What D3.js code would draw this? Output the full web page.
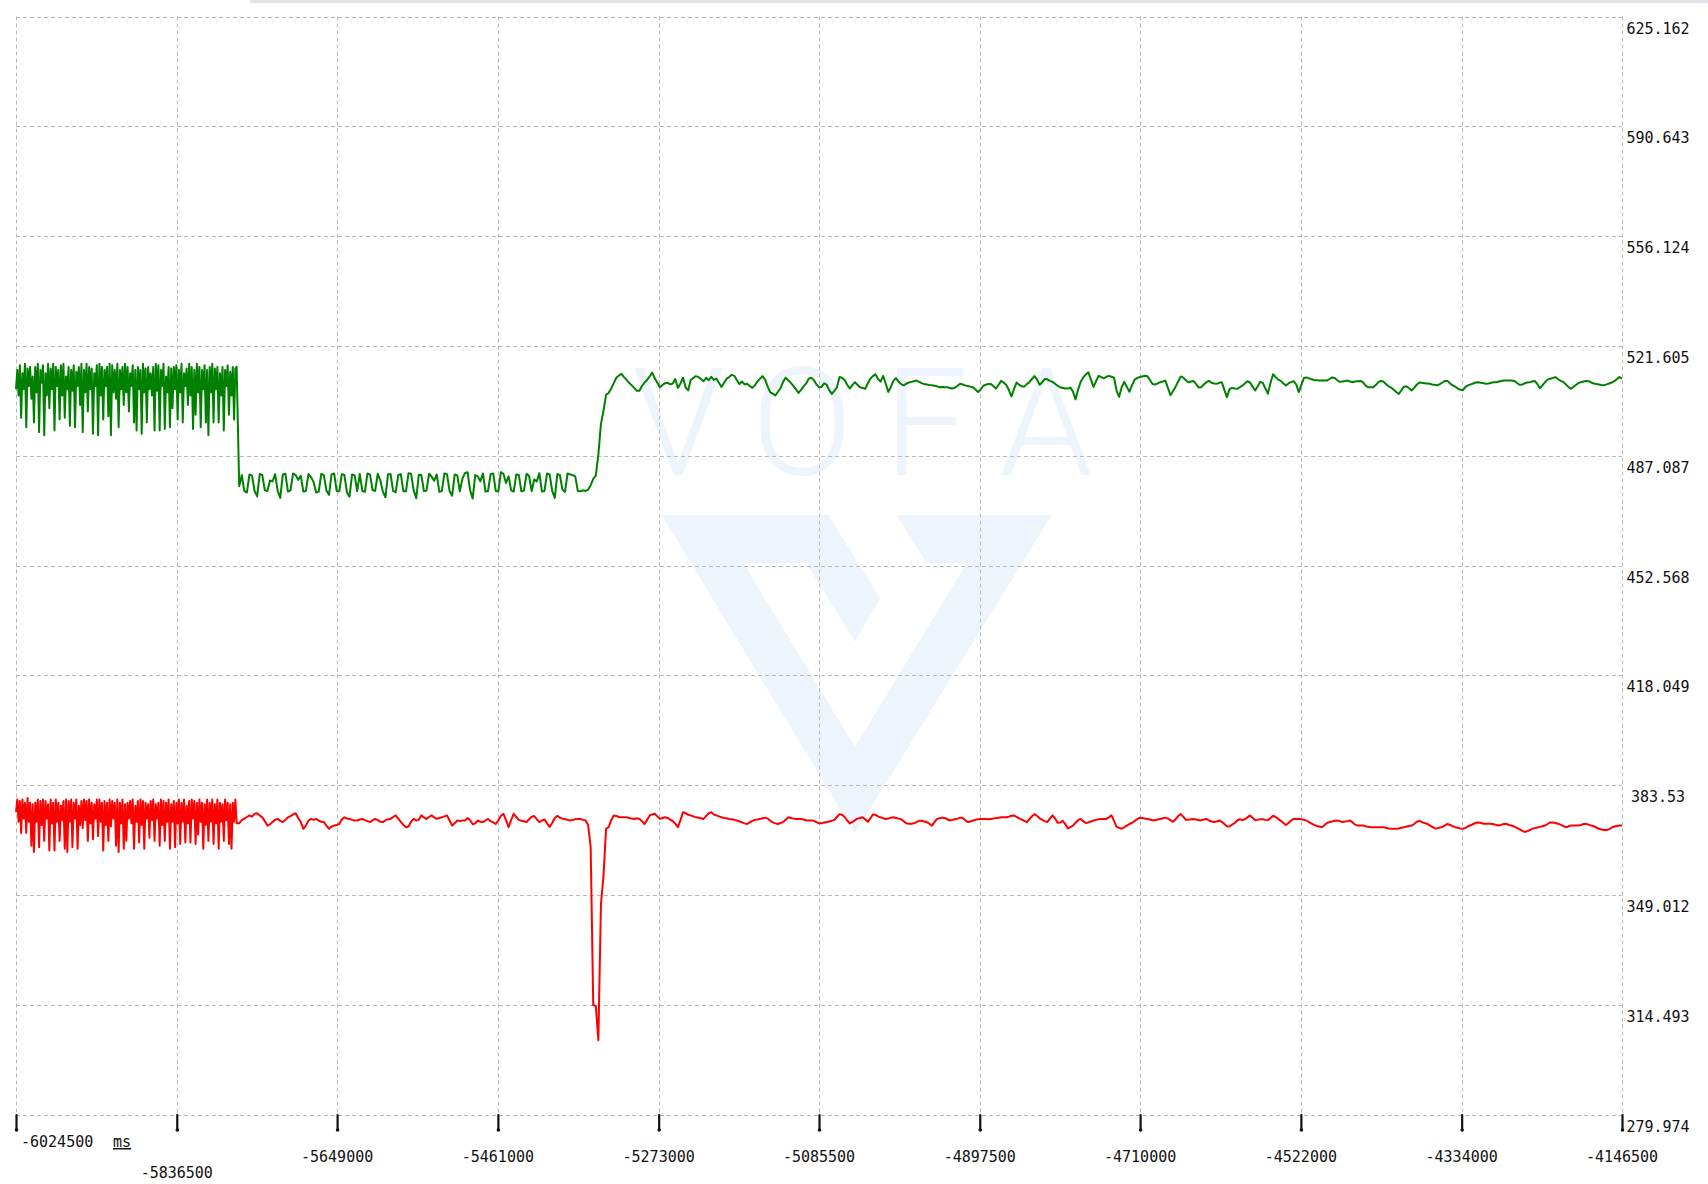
<!DOCTYPE html>
<html><head><meta charset="utf-8">
<script src="https://cdn.jsdelivr.net/npm/d3@7/dist/d3.min.js"></script>
<style>html,body{margin:0;padding:0;background:#fff;overflow:hidden}</style>
</head><body>
<svg id="chart" width="1708" height="1184"></svg>
<script>
// ---------------- data ----------------
const noisyStartMs = -6024500, noisyPeriodMs = 1500;   // fast-sampled first stretch
const mainStartMs = -5763500, mainPeriodMs = 3000;     // remainder
const xUnit = "ms";
const xTickValues = [-6024500,-5836500,-5649000,-5461000,-5273000,-5085500,-4897500,-4710000,-4522000,-4334000,-4146500];
const yTickLabels = ["625.162","590.643","556.124","521.605","487.087","452.568","418.049","383.53","349.012","314.493","279.974"];

const greenNoisy = [
508,514,506,515.5,499,513,508,516,
496,514.5,509,515,505,512,497.5,515,
507,516,494.5,514,510,515.5,493.5,513,
506,516,502,514.5,508,516,495,515,
509,514,498.5,515.5,506,516,499,512,
508,515,496.5,514,507.5,515.5,496,513.5,
509,515,503,516,494.5,514,507,516,
501,515,508,514.5,494,513,509,515.5,
493.5,516,506,515,498.5,514,509,515,
499.5,516,493.5,515.5,507,514,505,516,
496,514,508,515,503,516,507,515,
501,513,509,515.5,497.5,514,495,515,
508,514,494,516,507,514.5,497.5,515,
508,513,506,515,495,516,507.5,515.5,
495,514,509,516,495.5,512,507,515,
496,514.5,502,515,508,515.5,498.5,514,
507,516,497.5,513,509,514.5,503,516,
506,515,495.5,514,500,516,507,515,
496,514,508,515.5,497.5,514,493.5,515,
507,516,497.5,514.5,508,515,497.5,513,
506,515,495,514,509,515.5,500,513.5,
506,515,498.5,514.5,515
];

const greenMain = [
477.5,481,476,475.5,481.2,480.8,476,474.3,481.3,481,
476.2,476,479.3,479,481.3,476,473.8,481.2,481.4,475.8,
476.2,481.5,481,479.5,480.8,475.8,476,481.3,480.3,478.8,
475.5,475.8,481.4,481,476.1,474.8,481.2,481.5,476,475.9,
481.3,481,475.6,474.2,481.2,480.9,476,481.3,476,475.7,
481.5,481.1,476.3,476,481.4,479.4,475.8,474,481.2,481.3,
476,475.6,481,481.3,475.9,475.9,481.6,481.4,476.2,473.7,
481.1,481,476,476.1,481.4,480.5,479.2,481.2,475.7,476,
481.5,481.3,476,474.5,481.2,480.9,475.9,479.8,481.6,481.9,
476.3,473.6,481,480.6,479,481.5,475.8,476,481.3,481.5,
476,475.8,481.9,481.4,478.5,480.6,476.2,475.8,481.2,481,
475.9,476.1,481.4,480.7,476,479.6,479,481.6,475.8,476,
481.5,481.2,476,473.8,481.3,481,476.4,475.7,481.5,481.2,
481,480.5,476,475.9,476.2,476,476.4,477.8,479.8,480.8,
487.5,497,501.2,506.2,506.8,508.2,509.9,511.6,512.3,512.8,
511.8,
510.9,510,509.2,508.4,507.5,507.5,509,510.1,510.9,512,
513.2,511.4,510,508.6,509.3,509.9,510,509.5,509.8,511.2,
508.4,509.8,511.6,508.6,507.6,510.9,511.5,512.1,511.8,511.2,
510.5,511.6,510.8,511.9,510.9,511.3,510,508.7,510,511.3,
511.8,512.5,512.2,510.8,509.6,510.4,509.5,509.7,509,508.4,
509.2,510.4,511.3,512.1,511,508.8,507,506.6,506,507.2,
508.3,510.3,511.6,510.8,510,509,508,506.8,507.8,508.9,
509.8,511.3,511.6,510.9,509.5,508.6,508.7,509.8,509.4,507.6,
506.5,507.5,508.6,511.8,511.6,510.9,509.4,508.2,509.3,510.2,
509.4,508.6,508.4,508.1,509.8,511.3,512.1,512.7,511.2,510.4,
512.2,509.8,507.1,508.7,510.6,511.5,510.3,509.6,509.2,509.7,
510.1,510.3,510.5,510.7,510.3,509.9,509.6,509.5,509.3,509.2,
509.1,508.9,508.6,508.7,508.6,508.6,508.4,508.2,508.5,509.1,
509.7,509.5,509.2,509,508.8,508.6,507.9,507.1,507.9,509,
509.4,509.6,509.6,508.9,508.2,509.4,510.6,510.1,509.3,507.8,
505.7,508,510.1,509.4,508.9,508.8,509.6,510.2,511.2,512.1,
511,509.4,510.2,511.2,511.1,510.6,510.3,509.7,509.1,508.6,
508.4,508.2,508.2,508.5,507.2,504.8,507.9,510.3,511.7,512.6,
513.3,511,508.7,510.5,512.2,511.8,511.4,511.9,512.2,511.9,
511.6,507.5,505.6,508.7,510.3,508.7,507.2,509.2,511,511.5,
511.8,512,512.2,512.1,510.9,509.6,509.5,509.8,510.2,510.4,
510.7,508.4,506.1,507.4,508.8,510.4,512,511.6,510.8,510.2,
510.4,510.6,509.6,508.5,508.6,509.5,510.2,510.6,510,509.8,
509.7,510,510.2,507.8,505.5,508,508.4,508.2,508.1,508.6,
509.1,509.8,510.5,510.1,508.8,507.6,508.9,510.3,510,508.2,
506.6,510,512.7,511.8,511,510.6,509.8,509.2,509.8,510.2,
510.5,509.5,507.1,509.3,511.5,511.7,511.4,511.1,510.9,510.8,
510.7,510.7,510.7,510.7,511.2,511.7,511.5,510.8,510.3,510.4,
510.6,510.7,510.4,510.2,510.4,510.5,510.6,510.2,509.2,508.6,
508.6,508.6,509.3,510.2,510.6,510.4,509.6,508.9,508.5,507.8,
507.1,506.5,507.6,508.8,508.9,508.3,507.6,508.4,509.4,510.1,
510,509.9,509.8,509.7,509.5,509.4,509.2,509.6,510.1,510.6,
510.6,509.8,509.2,508.8,508.2,507.8,507.7,508.7,509.2,509.5,
509.8,510.1,510.2,510,509.9,509.7,509.8,510,510.2,510.2,
510.4,510.6,510.7,510.7,510.7,510.7,510.6,510,509.4,509.4,
509.8,510.1,510.2,510.4,510.6,509.6,508.3,509.2,510.2,511,
511.3,511.5,511.8,511.2,510.7,510.3,509.6,508.8,508.1,508.7,
509.3,509.9,510.2,510.4,510.6,510.5,510.1,509.8,509.6,509.5,
509.3,509.2,509.5,509.8,510.1,510.5,511.2,511.8,511.3
];

const redNoisy = [
375,379,372,378.5,368.5,379,373,378,
368.5,379.5,372,378,364.5,377.5,362.5,378,
372,379,364,378.5,371,379,366,378.5,
373,377.5,363,379,371.5,378,363,379,
372,378,366,377,372.5,378.5,363.5,379,
362.5,378.5,372,379,364,378,373,379,
363.5,377,371,378.5,370,379,372.5,378.5,
366,379,371.5,378,366.5,377.5,373,379,
367.5,379,372,378,363,378.5,371,378,
366,379,370.5,378.5,373,378,364.5,379,
362.5,378,371.5,379,363.5,377.5,366,378,
373,378.5,371.5,379,363.5,377,372,378.5,
365.5,379,371,378.5,363.5,378,373,377.5,
367,378.5,372.5,379,366,377.5,373,378,
364.5,379,371,378.5,366,378,372,379,
363.5,377.5,372,378.5,364,378,371.5,379,
365,378,372,379,365.5,377,371.5,378.5,
365.5,379,373,378.5,365,378,368,379,
372,378,363.5,377.5,371,379,366,378,
372,379,365,377.5,371.5,379,363.5,378,
372,377.5,366,379,372.5,378,365,377.5,
363.5,378,372,379,371.5
];

const redMain = [
371.5,372.5,373,373.5,374,373.6,374.5,374.7,374,373.4,
372.2,370.8,371.2,371.9,372.6,372.9,372.3,371.9,372.6,373.4,
373.8,374.3,374.7,373.2,371.9,369.8,370.8,372.4,372.9,372.6,
372.9,372.4,372,371.9,370.8,369.8,370.5,370.8,371,371.3,
372.7,373.4,373,372.9,372.6,372.4,372.4,372.7,372.9,372.5,
372.2,371.9,372.5,372.9,372.5,372,371.9,372.5,372.8,372.9,
373.5,374,373,372,371,370.3,370.5,372,372.9,372.4,
372.6,374,373.4,372.9,373.5,374,373.4,372.9,373.2,373.4,
373.7,374,372.4,370.8,371.5,372.4,372.2,372.4,372.4,373.2,
372.5,371.2,371.5,372.4,372,371.9,372.4,372.9,372.2,371.8,
371.3,372.5,373.8,374.5,372.5,370.3,372.5,374.5,373.5,372.6,
372.3,372.1,371.9,372.8,373.6,373.8,372.8,371.9,372.4,372.7,
371.5,370.4,371.6,373.2,373.9,373.3,373,372.8,372.6,372.4,
372.6,372.8,372.9,372.9,372.6,372.4,371,364,314.4,314.1,
303.3,346,355,369.8,370.3,372.5,374,373.8,373.5,373.4,
373.4,373.4,373.2,373,372.9,373.1,372.9,372.2,371.3,372.6,
374,374.3,374.5,373.7,372.9,373.2,373.4,373.2,372.7,372.2,
371.4,370.3,372.5,375,374.7,374.2,374,373.7,373.4,373.3,
373.1,372.9,373.8,374.7,375,374.3,374,373.7,373.4,373.2,
373.1,372.9,372.8,372.6,372.4,372.1,371.8,371.5,371.3,371.8,
372.3,372.6,372.7,372.9,373.1,373.3,373,372.3,371.8,371.5,
371.3,371.6,371.9,372.6,373.4,373.2,373,372.9,372.9,372.9,
372.7,372.4,372.4,372.4,372.3,371.9,371.5,371.5,371.8,371.9,
372.1,372.3,372.6,373.5,374.4,374.2,373.5,372.4,371.5,371.9,
372.5,373,373.2,373.4,372.8,372,373,374.3,374.2,373.7,
373.4,373.1,372.9,373,373.3,373.4,373.2,373,372.8,372.2,
371.5,371.4,371.4,371.5,371.9,372.3,372.3,372.1,371.9,371.4,
370.8,371.9,372.9,373.1,373.3,373.2,372.8,372.4,372.6,372.8,
373,373.3,373.3,372.5,371.9,372.1,372.4,372.6,372.8,372.9,
372.9,372.9,372.8,372.9,373,373.2,373.3,373.4,373.4,373.4,
373.6,373.9,374,373.5,373.1,372.7,372.3,371.9,372.8,373.7,
374.4,373.8,373.1,372.6,372.2,371.9,373,374,373.1,371.7,
371.8,372.3,371.3,369.9,370.3,370.8,371.7,372.5,372.9,372.2,
371.6,371.8,372.1,372.4,372.6,372.8,372.9,372.9,372.9,373.4,
374,372.3,370.4,370.1,369.8,370.3,370.8,371.3,371.7,372.2,
372.8,373.3,373.2,373,372.9,372.7,372.5,372.5,372.7,372.9,
373.1,373.3,373,372.5,372,372.8,373.8,374.4,373.6,372.6,
372.6,372.8,372.9,372.7,372.5,372.5,372.7,372.9,372.4,372.1,
371.9,372.1,372.4,372,371.3,370.6,370.5,371.1,371.6,372.4,
372.8,372.5,372.8,373.4,374,373.3,372.5,372.6,372.8,372.8,
372.6,372.5,373.2,373.9,373.5,372.9,372.3,371.6,371,371.6,
372.4,372.9,372.9,372.9,372.8,372.6,372.4,371.9,371.4,371,
370.7,370.5,370.3,370.9,371.6,371.9,372.1,372.3,372.4,372.2,
371.9,372.1,372.2,372.4,371.8,371.1,370.8,370.8,370.8,370.6,
370.4,370.3,370.3,370.3,370.3,370.3,370.3,370.1,369.9,369.8,
369.8,369.8,369.9,370.1,370.3,370.5,370.7,370.8,371.3,372,
372.3,371.9,371.6,371.4,370.9,370.4,369.9,370,370.2,370.4,
370.9,371.3,371,370.6,370.3,370.1,369.9,369.8,370.1,370.6,
370.9,371.3,371.7,371.8,371.6,371.4,371.4,371.4,371.4,371.2,
371,370.8,371.1,371.3,371.3,371,370.8,370.5,370.1,369.7,
369.2,368.8,369,369.4,369.8,370,370.2,370.4,370.6,370.8,
371.3,371.8,371.8,371.6,371.4,371.1,370.7,370.3,370.5,370.8,
370.8,370.8,370.8,371,371.3,371.3,371.1,370.8,370.6,370.2,
369.8,369.6,369.4,369.4,369.7,370.2,370.5,370.7,370.8,370.8
];

// join the two sampling stretches into [time, value] pairs
function toPoints(noisy, main) {
  return noisy.map((v, i) => [noisyStartMs + i * noisyPeriodMs, v])
    .concat(main.map((v, j) => [mainStartMs + j * mainPeriodMs, v]));
}
const seriesList = [
  {name: "green", points: toPoints(greenNoisy, greenMain), color: "#008000"},
  {name: "red", points: toPoints(redNoisy, redMain), color: "#ff0000"}
];

// ---------------- layout ----------------
const svg = d3.select("#chart");
const plot = {left: 16, right: 1622, top: 16.5, bottom: 1114.5};
const monoFont = "'DejaVu Sans Mono', 'Liberation Mono', monospace";

const x = d3.scaleLinear()
  .domain([xTickValues[0], xTickValues[xTickValues.length - 1]])
  .range([plot.left, plot.right]);
const yTickValues = yTickLabels.map(Number);
const y = d3.scaleLinear()
  .domain([d3.min(yTickValues), d3.max(yTickValues)])
  .range([plot.bottom, plot.top]);

svg.append("rect").attr("width", 1708).attr("height", 1184).attr("fill", "#ffffff");
svg.append("rect").attr("x", 250).attr("y", 0).attr("width", 1458).attr("height", 3).attr("fill", "#dfe3e8");

// ---------------- watermark ----------------
const wm = svg.append("g").attr("fill", "#edf4fc");
[["V", 678], ["O", 802], ["F", 926], ["A", 1046]].forEach(([ch, cx]) => {
  wm.append("text").attr("x", cx).attr("y", 475).attr("text-anchor", "middle")
    .attr("font-family", "Roboto, 'Open Sans', sans-serif").attr("font-weight", 300)
    .attr("font-size", 150).text(ch);
});
wm.append("polygon").attr("points", "661.7,515 828.3,515 880,598.3 855,641.7 806.5,563.3 743.3,563.3 855,746.7 855,833.3");
wm.append("polygon").attr("points", "896.7,515 1051.7,515 855,833.3 855,746.7 966.7,563.3 926.7,563.3");

// ---------------- grid ----------------
const grid = svg.append("g").attr("stroke", "#b9b9b9").attr("stroke-width", 1).attr("stroke-dasharray", "4,3").attr("fill", "none");
grid.selectAll("line.v").data(xTickValues).join("line").attr("class", "v")
  .attr("x1", d => Math.round(x(d)) + 0.5).attr("x2", d => Math.round(x(d)) + 0.5)
  .attr("y1", plot.top).attr("y2", plot.bottom);
grid.selectAll("line.h").data(yTickValues).join("line").attr("class", "h")
  .attr("x1", plot.left).attr("x2", plot.right)
  .attr("y1", d => Math.round(y(d)) + 0.5).attr("y2", d => Math.round(y(d)) + 0.5);

// ---------------- series ----------------
const line = d3.line().x(d => x(d[0])).y(d => y(d[1]));
svg.append("g").selectAll("path").data(seriesList).join("path")
  .attr("d", s => line(s.points))
  .attr("fill", "none").attr("stroke", s => s.color)
  .attr("stroke-width", 2).attr("stroke-linejoin", "round");

// ---------------- x axis ticks ----------------
const axisG = svg.append("g").attr("transform", `translate(0,${Math.round(plot.bottom)})`)
  .call(d3.axisBottom(x).tickValues(xTickValues).tickSize(15).tickFormat(""));
axisG.select(".domain").remove();
axisG.selectAll(".tick line").attr("stroke", "#111").attr("stroke-width", 2.2).attr("stroke-linecap", "round");
axisG.selectAll(".tick").append("circle").attr("cy", 15).attr("r", 1.8).attr("fill", "#111");

const xl = svg.append("g").attr("font-family", monoFont).attr("font-size", 15).attr("fill", "#111");
xl.selectAll("text").data(xTickValues).join("text")
  .attr("x", (d, i) => i === 0 ? x(d) + 5 : x(d))
  .attr("y", (d, i) => i === 0 ? 1147 : (i === 1 ? 1178 : 1162))
  .attr("text-anchor", (d, i) => i === 0 ? "start" : "middle")
  .text(d => String(d));
xl.append("text").attr("x", x(xTickValues[0]) + 97).attr("y", 1147)
  .attr("text-decoration", "underline").text(xUnit);

// ---------------- y labels ----------------
svg.append("g").attr("font-family", monoFont).attr("font-size", 15).attr("fill", "#111")
  .selectAll("text").data(yTickLabels).join("text")
  .attr("x", plot.right + 36).attr("y", d => y(+d) + 17)
  .attr("text-anchor", "middle").text(d => d);
</script>
</body></html>
